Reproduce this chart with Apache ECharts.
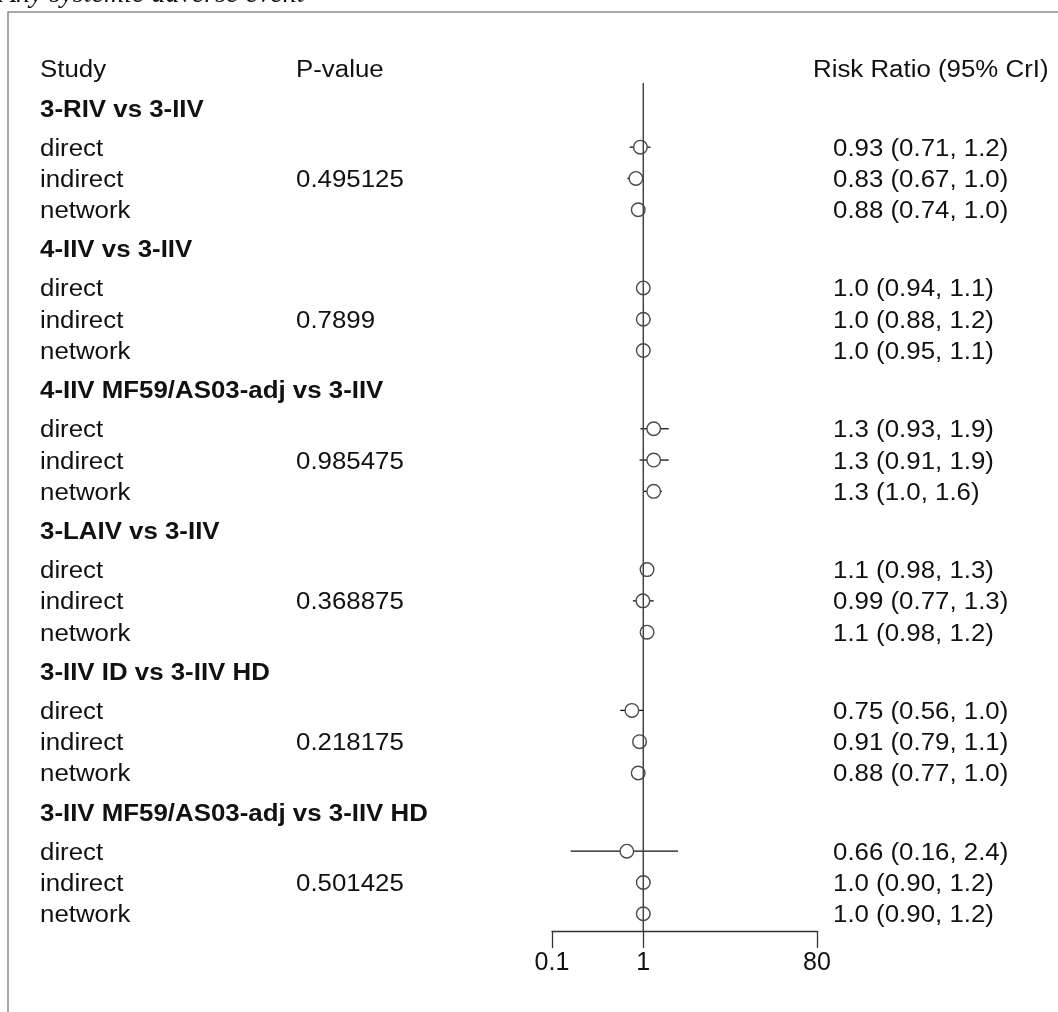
<!DOCTYPE html>
<html>
<head>
<meta charset="utf-8">
<title>Any systemic adverse event</title>
<script src="https://cdn.jsdelivr.net/npm/echarts@6/dist/echarts.min.js"></script>
<style>
  html, body { margin: 0; padding: 0; background: #fff; }
  #chart { width: 1058px; height: 1012px; }
</style>
</head>
<body>
<div id="chart"></div>
<script>
// Comparisons (one block each) and the three evidence rows inside every block
const comparisons = [
  '3-RIV vs 3-IIV',
  '4-IIV vs 3-IIV',
  '4-IIV MF59/AS03-adj vs 3-IIV',
  '3-LAIV vs 3-IIV',
  '3-IIV ID vs 3-IIV HD',
  '3-IIV MF59/AS03-adj vs 3-IIV HD'
];
const evidence = ['direct', 'indirect', 'network'];

// Inconsistency p-value for each comparison (shown on the indirect row)
const pValues = ['0.495125', '0.7899', '0.985475', '0.368875', '0.218175', '0.501425'];

// Risk ratios with 95% credible intervals, row order: direct, indirect, network
const rrEstimate = [0.93, 0.83, 0.88,  1.0, 1.0, 1.0,   1.3, 1.3, 1.3,   1.1, 0.99, 1.1,  0.75, 0.91, 0.88,  0.66, 1.0, 1.0];
const rrLower    = [0.71, 0.67, 0.74,  0.94, 0.88, 0.95, 0.93, 0.91, 1.0, 0.98, 0.77, 0.98, 0.56, 0.79, 0.77, 0.16, 0.90, 0.90];
const rrUpper    = [1.2, 1.0, 1.0,     1.1, 1.2, 1.1,    1.9, 1.9, 1.6,   1.3, 1.3, 1.2,    1.0, 1.1, 1.0,    2.4, 1.2, 1.2];

// Tick values of the risk-ratio axis
const axisTicks = [0.1, 1, 80];

// Row layout in row units: header of block g, then its three rows
const BLOCK = 4.5, HEAD_GAP = 1.25;
const headerRow = g => g * BLOCK;
const dataRow = (g, r) => g * BLOCK + HEAD_GAP + r;
const columnHeaderRow = -HEAD_GAP;

const fmt = v => v.toPrecision(2);

const points = [];
comparisons.forEach((c, g) => {
  evidence.forEach((e, r) => {
    const i = g * 3 + r;
    points.push([rrEstimate[i], rrLower[i], rrUpper[i], dataRow(g, r)]);
  });
});

const FONT = '"Liberation Sans", Arial, Helvetica, sans-serif';
const FS = 23.5;
const STRETCH = 1.1;
const TEXT_NUDGE = 2;
const Y_MIN = -0.8, Y_MAX = 26.3;

const chart = echarts.init(document.getElementById('chart'));

chart.setOption({
  animation: false,
  backgroundColor: '#fff',
  grid: { left: 552, right: 241, top: 83, bottom: 81 },
  xAxis: {
    type: 'log',
    logBase: 10,
    min: 0.1,
    max: 80,
    position: 'bottom',
    splitLine: { show: false },
    axisLine: { show: true, onZero: false, lineStyle: { color: '#333', width: 1.3 } },
    axisTick: { show: true, length: 17, customValues: axisTicks, lineStyle: { color: '#333', width: 1.3 } },
    axisLabel: {
      customValues: axisTicks,
      fontSize: 25, fontFamily: FONT, color: '#111', margin: 20,
      formatter: v => String(+(+v).toPrecision(3))
    }
  },
  yAxis: {
    type: 'value', inverse: true, min: Y_MIN, max: Y_MAX, show: false
  },
  series: [
    {
      type: 'custom',
      clip: false,
      z: 2,
      data: points,
      encode: { x: [0, 1, 2], y: 3 },
      renderItem: function (params, api) {
        const y = api.value(3);
        const pe = api.coord([api.value(0), y]);
        const pl = api.coord([api.value(1), y]);
        const ph = api.coord([api.value(2), y]);
        return {
          type: 'group',
          children: [
            { type: 'line', shape: { x1: pl[0], y1: pl[1], x2: ph[0], y2: ph[1] },
              style: { stroke: '#111', lineWidth: 1.3 } },
            { type: 'circle', shape: { cx: pe[0], cy: pe[1], r: 6.8 },
              style: { fill: '#fff', stroke: '#4a4a4a', lineWidth: 1.4 } }
          ]
        };
      }
    },
    {
      // line of no effect at RR = 1
      type: 'line',
      z: 5,
      symbol: 'none',
      silent: true,
      data: [[1, Y_MIN], [1, Y_MAX]],
      lineStyle: { color: '#444', width: 1.5 }
    }
  ]
});

const yPx = v => chart.convertToPixel({ yAxisIndex: 0 }, v);

function txt(str, x, row, bold) {
  return {
    type: 'text', x: x, y: yPx(row) + TEXT_NUDGE, scaleX: STRETCH, silent: true,
    style: {
      text: str, fill: '#111', fontSize: FS, fontFamily: FONT,
      fontWeight: bold ? 'bold' : 'normal',
      textAlign: 'left', textVerticalAlign: 'middle'
    }
  };
}

const elements = [
  // frame
  { type: 'polyline', silent: true,
    shape: { points: [[8, 1012], [8, 12], [1058, 12]] },
    style: { stroke: '#8c8c8c', lineWidth: 1.5, fill: null } },
  // caption
  { type: 'text', x: -1, y: -5, silent: true,
    style: { text: 'Any systemic adverse event', fill: '#111', fontSize: 28,
      fontStyle: 'italic', fontFamily: '"Liberation Serif", "Times New Roman", serif',
      textAlign: 'left', textVerticalAlign: 'middle' } },
  txt('Study', 40, columnHeaderRow, false),
  txt('P-value', 296, columnHeaderRow, false),
  txt('Risk Ratio (95% CrI)', 813, columnHeaderRow, false)
];

comparisons.forEach((c, g) => {
  elements.push(txt(c, 40, headerRow(g), true));
  evidence.forEach((e, r) => {
    const i = g * 3 + r;
    elements.push(txt(e, 40, dataRow(g, r), false));
    elements.push(txt(fmt(rrEstimate[i]) + ' (' + fmt(rrLower[i]) + ', ' + fmt(rrUpper[i]) + ')',
      833, dataRow(g, r), false));
  });
  elements.push(txt(pValues[g], 296, dataRow(g, 1), false));
});

chart.setOption({ graphic: { elements: elements } });
</script>
</body>
</html>
